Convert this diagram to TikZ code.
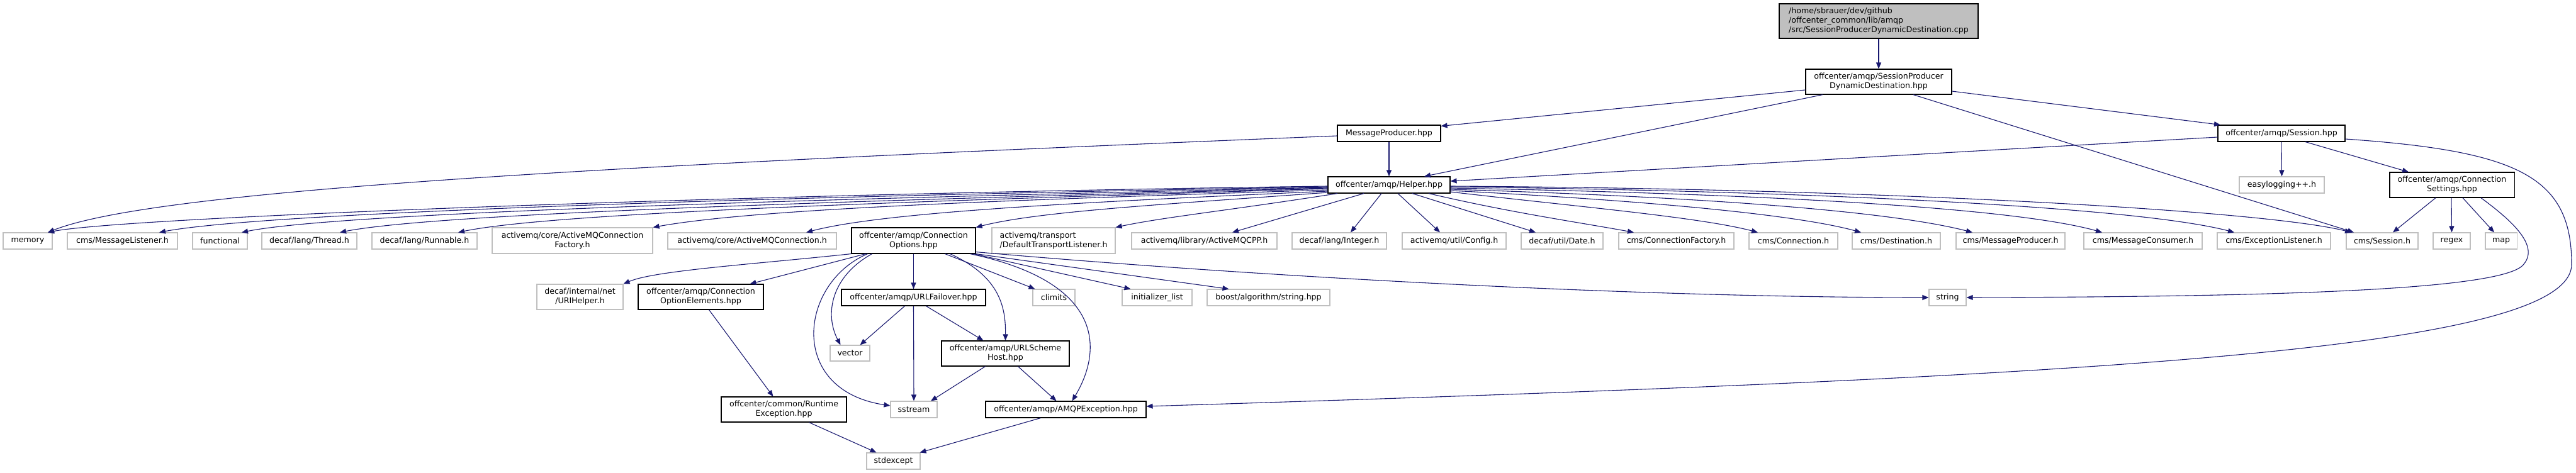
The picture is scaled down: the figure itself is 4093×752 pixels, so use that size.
\documentclass[tikz,border=0pt]{standalone}
\usepackage{fontspec}
\setmainfont{DejaVu Sans}
\usetikzlibrary{arrows.meta}
\definecolor{edgec}{HTML}{191970}
\definecolor{extc}{HTML}{BFBFBF}
\definecolor{rootfill}{HTML}{BFBFBF}
\begin{document}
\begin{tikzpicture}[x=1pt,y=-1pt,
  box/.style={draw=black, line width=1.1pt, fill=white, rectangle, inner sep=0pt,
    minimum height=26pt, align=center, font=\fontsize{12.6}{15}\selectfont, text=black},
  ext/.style={box, draw=extc},
  two/.style={minimum height=40pt},
  edge/.style={draw=edgec, line width=1.1pt, -{Triangle[length=10pt,width=8pt]}}]
\useasboundingbox (0,0) rectangle (4093,752);

% top
\node[box, fill=rootfill, minimum height=55pt, minimum width=316pt, align=left] (root) at (2985,33.5)
  {/home/sbrauer/dev/github\\/offcenter\_common/lib/amqp\\/src/SessionProducerDynamicDestination.cpp};
\node[box, two, minimum width=232pt] (spdd) at (2985,130) {offcenter/amqp/SessionProducer\\DynamicDestination.hpp};
\node[box, minimum width=202pt] (sessionhpp) at (3625,212) {offcenter/amqp/Session.hpp};
\node[box, minimum width=164pt] (mph) at (2207,212) {MessageProducer.hpp};
\node[box, minimum width=194pt] (helper) at (2207,294) {offcenter/amqp/Helper.hpp};
\node[ext, minimum width=135pt] (easylog) at (3625.5,294) {easylogging++.h};
\node[box, two, minimum width=198pt] (connset) at (3896,294) {offcenter/amqp/Connection\\Settings.hpp};

% row 2
\node[ext, minimum width=78pt] (memory) at (44,383) {memory};
\node[ext, minimum width=175pt] (msglist) at (194.5,383) {cms/MessageListener.h};
\node[ext, minimum width=87pt] (functional) at (349.5,383) {functional};
\node[ext, minimum width=151pt] (thread) at (491.5,383) {decaf/lang/Thread.h};
\node[ext, minimum width=167pt] (runnable) at (674.5,383) {decaf/lang/Runnable.h};
\node[ext, minimum width=255pt, minimum height=41pt] (amqcf) at (909.5,382.5) {activemq/core/ActiveMQConnection\\Factory.h};
\node[ext, minimum width=268pt] (amqc) at (1195,383) {activemq/core/ActiveMQConnection.h};
\node[box, minimum width=197pt, minimum height=41pt] (connopt) at (1451.5,382.5) {offcenter/amqp/Connection\\Options.hpp};
\node[ext, minimum width=196pt, minimum height=41pt, align=left] (dtl) at (1674,382.5) {activemq/transport\\/DefaultTransportListener.h};
\node[ext, minimum width=231pt] (amqcpp) at (1913.5,383) {activemq/library/ActiveMQCPP.h};
\node[ext, minimum width=150pt] (integer) at (2128,383) {decaf/lang/Integer.h};
\node[ext, minimum width=165pt] (config) at (2310.5,383) {activemq/util/Config.h};
\node[ext, minimum width=130pt] (date) at (2482,383) {decaf/util/Date.h};
\node[ext, minimum width=183pt] (cf) at (2663.5,383) {cms/ConnectionFactory.h};
\node[ext, minimum width=141pt] (conn) at (2849.5,383) {cms/Connection.h};
\node[ext, minimum width=140pt] (dest) at (3013,383) {cms/Destination.h};
\node[ext, minimum width=173pt] (mprod) at (3194.5,383) {cms/MessageProducer.h};
\node[ext, minimum width=188pt] (mcons) at (3405,383) {cms/MessageConsumer.h};
\node[ext, minimum width=180pt] (exl) at (3613,383) {cms/ExceptionListener.h};
\node[ext, minimum width=114pt] (sessh) at (3785,383) {cms/Session.h};
\node[ext, minimum width=59pt] (regex) at (3895.5,383) {regex};
\node[ext, minimum width=50pt] (map) at (3974,383) {map};

% row 3
\node[ext, two, minimum width=137pt] (urihelper) at (921.5,472) {decaf/internal/net\\/URIHelper.h};
\node[box, two, minimum width=199pt] (coe) at (1113.5,472) {offcenter/amqp/Connection\\OptionElements.hpp};
\node[box, minimum width=229pt] (urlfail) at (1451.5,473) {offcenter/amqp/URLFailover.hpp};
\node[ext, minimum width=67pt] (climits) at (1674.5,473) {climits};
\node[ext, minimum width=111pt] (initlist) at (1838.5,473) {initializer\_list};
\node[ext, minimum width=195pt] (boost) at (2015.5,473) {boost/algorithm/string.hpp};
\node[ext, minimum width=59pt] (string) at (3094.5,473) {string};

% row 4-6
\node[ext, minimum width=63pt, minimum height=25pt] (vector) at (1350.5,561.5) {vector};
\node[box, two, minimum width=203pt] (ush) at (1597.5,562) {offcenter/amqp/URLScheme\\Host.hpp};
\node[box, two, minimum width=199pt] (rte) at (1245.5,651) {offcenter/common/Runtime\\Exception.hpp};
\node[ext, minimum width=74pt] (sstream) at (1452,651) {sstream};
\node[box, minimum width=255pt] (amqpe) at (1693.5,651) {offcenter/amqp/AMQPException.hpp};
\node[ext, minimum width=85pt] (stdexcept) at (1419.5,733) {stdexcept};

% edges: top
\draw[edge] (root.south) -- (spdd.north);
\draw[edge] ([yshift=-13pt]spdd.west) -- ([yshift=-2pt]mph.north east);
\draw[edge] ([xshift=-89pt]spdd.south) -- ([xshift=56pt]helper.north);
\draw[edge] ([xshift=55pt]spdd.south) -- ([xshift=-45pt]sessh.north);
\draw[edge] ([yshift=-15pt]spdd.east) -- ([xshift=-97pt]sessionhpp.north);
\draw[edge] (mph.south) -- (helper.north);
\draw[edge] ([yshift=-4pt]mph.west) .. controls (1000,262) and (250,300) .. ([xshift=32pt]memory.north);
\draw[edge] ([yshift=-6pt]sessionhpp.west) -- ([yshift=6pt]helper.east);
\draw[edge] (sessionhpp.south) -- (easylog.north);
\draw[edge] ([xshift=38pt]sessionhpp.south) -- ([xshift=-69pt]connset.north);
\draw[edge] ([yshift=-9pt]sessionhpp.east) .. controls (4000,240) and (4086,280) .. (4086,420)
  .. controls (4086,560) and (3300,600) .. ([yshift=5pt]amqpe.east);
\draw[edge] ([xshift=-26pt]connset.south) -- ([xshift=17pt]sessh.north);
\draw[edge] ([xshift=-1pt]connset.south) -- (regex.north);
\draw[edge] ([xshift=17pt]connset.south) -- ([xshift=-11pt]map.north);
\draw[edge] ([xshift=46pt]connset.south) .. controls (3990,350) and (4035,390) .. (4010,420)
  .. controls (3980,462) and (3600,472) .. (string.east);

% edges: helper to the left
\draw[edge] ([yshift=-2pt]helper.west) .. controls (1200,308) and (200,345) .. ([xshift=32pt]memory.north);
\draw[edge] ([yshift=-3pt]helper.west) .. controls (1200,313) and (420,338) .. ([xshift=58.5pt]msglist.north);
\draw[edge] ([yshift=-4pt]helper.west) .. controls (1300,316) and (540,338) .. ([xshift=34.5pt]functional.north);
\draw[edge] ([yshift=-5pt]helper.west) .. controls (1400,318) and (700,338) .. ([xshift=48.5pt]thread.north);
\draw[edge] ([yshift=-6pt]helper.west) .. controls (1450,320) and (880,338) .. ([xshift=53.5pt]runnable.north);
\draw[edge] ([yshift=-8pt]helper.west) .. controls (1600,318) and (1200,332) .. (amqcf.north east);
\draw[edge] ([yshift=-10pt]helper.west) .. controls (1700,322) and (1400,338) .. ([xshift=86pt]amqc.north);
\draw[edge] ([yshift=-12pt]helper.west) .. controls (1850,325) and (1650,336) .. (connopt.north east);
\draw[edge] ([xshift=-82pt]helper.south) .. controls (1950,335) and (1850,345) .. (dtl.north east);
\draw[edge] ([xshift=-40pt]helper.south) -- ([xshift=44.5pt]amqcpp.north);
\draw[edge] ([xshift=-12pt]helper.south) -- ([xshift=18pt]integer.north);
\draw[edge] ([xshift=14pt]helper.south) -- ([xshift=-22.5pt]config.north);
\draw[edge] ([xshift=37pt]helper.south) -- ([xshift=-42pt]date.north);
% helper to the right
\draw[edge] ([xshift=63pt]helper.south) .. controls (2400,338) and (2500,352) .. ([xshift=-67.5pt]cf.north);
\draw[edge] ([yshift=-11pt]helper.east) .. controls (2500,328) and (2700,345) .. ([xshift=-56.5pt]conn.north);
\draw[edge] ([yshift=-9pt]helper.east) .. controls (2600,318) and (2850,340) .. ([xshift=-56pt]dest.north);
\draw[edge] ([yshift=-7pt]helper.east) .. controls (2700,313) and (3000,335) .. ([xshift=-60.5pt]mprod.north);
\draw[edge] ([yshift=-5pt]helper.east) .. controls (2800,308) and (3200,330) .. ([xshift=-65pt]mcons.north);
\draw[edge] ([yshift=-3pt]helper.east) .. controls (2900,304) and (3400,330) .. ([xshift=-63pt]exl.north);
\draw[edge] ([yshift=-2pt]helper.east) .. controls (3000,300) and (3600,335) .. ([xshift=-49pt]sessh.north);

% connection options
\draw[edge] (connopt.south) -- (urlfail.north);
\draw[edge] ([xshift=50pt]connopt.south) -- ([xshift=-30pt]climits.north);
\draw[edge] ([xshift=95pt]connopt.south) -- ([xshift=-42pt]initlist.north);
\draw[edge] (connopt.south east) -- ([xshift=-63pt]boost.north);
\draw[edge] ([yshift=3pt]connopt.south east) .. controls (2000,440) and (2600,473) .. (string.west);
\draw[edge] ([xshift=58pt]connopt.south) .. controls (1590,440) and (1598,490) .. (ush.north);
\draw[edge] ([xshift=90pt]connopt.south) .. controls (1760,450) and (1750,560) .. ([xshift=10pt]amqpe.north);
\draw[edge] ([xshift=-66pt]connopt.south) .. controls (1320,440) and (1310,500) .. ([xshift=-15pt]vector.north);
\draw[edge] ([xshift=-73pt]connopt.south) .. controls (1270,450) and (1250,620) .. ([yshift=6pt]sstream.west);
\draw[edge] (connopt.south west) .. controls (1200,420) and (1040,430) .. (urihelper.north east);
\draw[edge] ([xshift=-76pt]connopt.south) -- ([xshift=78pt]coe.north);

% lower
\draw[edge] ([xshift=-14pt]urlfail.south) -- ([xshift=16pt]vector.north);
\draw[edge] (urlfail.south) -- (sstream.north);
\draw[edge] ([xshift=20pt]urlfail.south) -- ([xshift=-35pt]ush.north);
\draw[edge] ([xshift=-32pt]ush.south) -- ([xshift=27pt]sstream.north);
\draw[edge] ([xshift=20pt]ush.south) -- ([xshift=-15pt]amqpe.north);
\draw[edge] ([xshift=-40pt]amqpe.south) -- ([xshift=-1pt]stdexcept.north east);
\draw[edge] ([xshift=40pt]rte.south) -- ([xshift=-27pt]stdexcept.north);
\draw[edge] ([xshift=13pt]coe.south) -- ([xshift=-17pt]rte.north);
\end{tikzpicture}
\end{document}
